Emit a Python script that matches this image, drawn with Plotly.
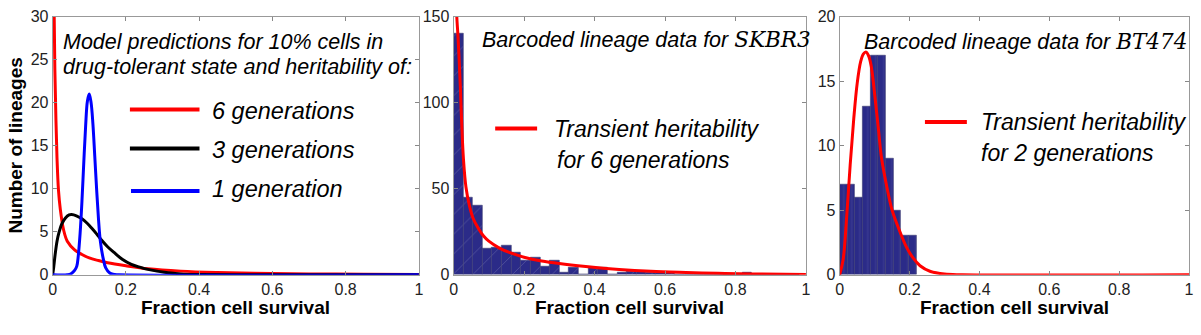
import numpy as np
import plotly.graph_objects as go

# ---------------- data ----------------
# Panel 1: model predictions
gen6_x = [0.002, 0.004, 0.006, 0.009, 0.012, 0.016, 0.021, 0.03, 0.04, 0.06, 0.08, 0.1,
          0.125, 0.15, 0.2, 0.26, 0.35, 0.45, 0.55, 0.7, 0.85, 1.0]
gen6_y = [40, 31, 24, 18, 13.5, 9.8, 7.6, 5.2, 3.9, 2.9, 2.35, 1.95,
          1.65, 1.4, 1.05, 0.7, 0.42, 0.26, 0.17, 0.1, 0.05, 0.02]

gen3_x = [0.0, 0.003, 0.007, 0.012, 0.018, 0.025, 0.035, 0.045, 0.052, 0.065, 0.08, 0.095,
          0.107, 0.12, 0.134, 0.15, 0.17, 0.19, 0.215, 0.24, 0.26, 0.285, 0.305, 0.33,
          0.35, 0.4, 0.5, 1.0]
gen3_y = [0.0, 0.9, 2.4, 3.9, 5.0, 5.9, 6.6, 6.95, 7.0, 6.85, 6.5, 5.95,
          5.4, 4.75, 4.0, 3.25, 2.5, 1.8, 1.2, 0.85, 0.62, 0.42, 0.3, 0.18,
          0.1, 0.04, 0.01, 0.0]

gen1_x = [0.0, 0.04, 0.05, 0.06, 0.066, 0.07, 0.075, 0.08, 0.085, 0.09, 0.095, 0.1,
          0.105, 0.11, 0.115, 0.12, 0.125, 0.13, 0.138, 0.145, 0.156, 0.165, 0.18, 1.0]
gen1_y = [0.0, 0.0, 0.1, 0.5, 1.0, 2.2, 4.8, 8.5, 13.0, 17.2, 20.2, 21.0,
          20.0, 17.5, 13.8, 10.0, 6.6, 4.0, 1.9, 0.8, 0.2, 0.05, 0.0, 0.0]

# Panel 2: SKBR3 histogram + fit
skbr3_bin_width = 0.0273
skbr3_counts = [140, 45, 40, 15, 16, 17, 13, 8, 10, 5, 8, 1, 4, 0, 4, 4, 0, 1,
                2, 2, 1, 1, 1, 0, 0, 0, 0, 0, 0, 0, 1, 0, 0, 0, 0, 0]
skbr3_fit_x = [0.007, 0.009, 0.012, 0.015, 0.019, 0.023, 0.028, 0.035, 0.045, 0.055, 0.07, 0.085,
               0.1, 0.13, 0.16, 0.2, 0.25, 0.3, 0.375, 0.47, 0.56, 0.66, 0.75, 0.85, 1.0]
skbr3_fit_y = [165, 150, 140, 128, 110, 88, 67, 51, 40, 33, 27, 22.5,
               19.5, 15.5, 12.8, 10.2, 8.0, 6.5, 4.8, 3.1, 2.0, 1.3, 0.8, 0.45, 0.15]

# Panel 3: BT474 histogram + fit
bt474_bin_width = 0.022
bt474_counts = [7, 7, 6, 13, 17, 17, 9, 5, 3, 3]
bt474_fit_x = [0.0, 0.01, 0.02, 0.03, 0.04, 0.05, 0.06, 0.068, 0.075, 0.082, 0.09, 0.1,
               0.11, 0.12, 0.135, 0.15, 0.17, 0.19, 0.21, 0.23, 0.26, 0.3, 0.35, 1.0]
bt474_fit_y = [0.0, 1.2, 4.5, 8.5, 12.0, 14.8, 16.5, 17.1, 17.25, 17.0, 16.2, 14.0,
               11.5, 9.0, 6.8, 5.0, 3.5, 2.2, 1.3, 0.7, 0.25, 0.05, 0.0, 0.0]

x_ticks = [0, 0.2, 0.4, 0.6, 0.8, 1]
x_ticktext = ["0", "0.2", "0.4", "0.6", "0.8", "1"]
y1_ticks = [0, 5, 10, 15, 20, 25, 30]
y2_ticks = [0, 50, 100, 150]
y3_ticks = [0, 5, 10, 15, 20]

# ---------------- figure ----------------
RED = "#ff0000"
BLUE = "#0000ff"
BAR = "#2b2b88"
FONT = "Liberation Sans, Arial, sans-serif"

W, H = 1201, 335
fig = go.Figure()

# Panel 1 lines
fig.add_trace(go.Scatter(x=gen6_x, y=gen6_y, mode="lines", line=dict(color=RED, width=3, shape="spline"),
                         xaxis="x", yaxis="y", showlegend=False))
fig.add_trace(go.Scatter(x=gen3_x, y=gen3_y, mode="lines", line=dict(color="black", width=3, shape="spline"),
                         xaxis="x", yaxis="y", showlegend=False))
fig.add_trace(go.Scatter(x=gen1_x, y=gen1_y, mode="lines", line=dict(color=BLUE, width=3, shape="spline"),
                         xaxis="x", yaxis="y", showlegend=False))

# Panel 2 histogram
c2 = np.arange(len(skbr3_counts)) * skbr3_bin_width + skbr3_bin_width / 2
fig.add_trace(go.Bar(x=c2, y=skbr3_counts, width=skbr3_bin_width,
                     marker=dict(color=BAR, line=dict(color="#3a3a70", width=0.6),
                                 pattern=dict(shape="/", fgcolor="rgba(220,220,235,0.45)", size=14, solidity=0.06)),
                     xaxis="x2", yaxis="y2", showlegend=False))
fig.add_trace(go.Scatter(x=skbr3_fit_x, y=skbr3_fit_y, mode="lines", line=dict(color=RED, width=3, shape="spline"),
                         xaxis="x2", yaxis="y2", showlegend=False))

# Panel 3 histogram
c3 = np.arange(len(bt474_counts)) * bt474_bin_width + bt474_bin_width / 2
fig.add_trace(go.Bar(x=c3, y=bt474_counts, width=bt474_bin_width,
                     marker=dict(color=BAR, line=dict(color="#3a3a70", width=0.6),
                                 pattern=dict(shape="|", fgcolor="rgba(220,220,235,0.45)", size=8, solidity=0.06)),
                     xaxis="x3", yaxis="y3", showlegend=False))
fig.add_trace(go.Scatter(x=bt474_fit_x, y=bt474_fit_y, mode="lines", line=dict(color=RED, width=3, shape="spline"),
                         xaxis="x3", yaxis="y3", showlegend=False))

ydom = [1 - 281 / H, 1 - 9 / H]
doms = [[49 / W, 418 / W], [453 / W, 808 / W], [842 / W, 1194 / W]]

def xax(dom, anchor):
    return dict(domain=dom, anchor=anchor, range=[0, 1], tickvals=x_ticks, ticktext=x_ticktext,
                ticks="inside", ticklen=4, tickcolor="#888", showline=True, linecolor="#999", linewidth=1,
                mirror="ticks", showgrid=False, zeroline=False,
                tickfont=dict(family=FONT, size=16, color="#222"))

def yax(rng, tv, anchor):
    return dict(domain=ydom, anchor=anchor, range=rng, tickvals=tv,
                ticks="inside", ticklen=4, tickcolor="#888", showline=True, linecolor="#999", linewidth=1,
                mirror="ticks", showgrid=False, zeroline=False,
                tickfont=dict(family=FONT, size=16, color="#222"))

fig.update_layout(
    width=W, height=H, margin=dict(l=0, r=0, t=0, b=0),
    paper_bgcolor="white", plot_bgcolor="white", bargap=0,
    xaxis=xax(doms[0], "y"), yaxis=yax([0, 30], y1_ticks, "x"),
    xaxis2=xax(doms[1], "y2"), yaxis2=yax([0, 150], y2_ticks, "x2"),
    xaxis3=xax(doms[2], "y3"), yaxis3=yax([0, 20], y3_ticks, "x3"),
)

ann = []
def txt(text, x, y, xref, yref, size, xanchor="left", bold=False, italic=True, textangle=0):
    t = text
    if italic:
        t = "<i>" + t + "</i>"
    if bold:
        t = "<b>" + t + "</b>"
    ann.append(dict(text=t, x=x, y=y, xref=xref, yref=yref, showarrow=False, xanchor=xanchor,
                    yanchor="middle", textangle=textangle, font=dict(family=FONT, size=size, color="black")))

# axis titles
for i, d in enumerate(doms):
    txt("Fraction cell survival", (d[0] + d[1]) / 2, 1 - 315 / H, "paper", "paper", 19,
        xanchor="center", bold=True, italic=False)
txt("Number of lineages", 12 / W, 1 - 145 / H, "paper", "paper", 19, xanchor="center",
    bold=True, italic=False, textangle=-90)

# panel 1 text
txt("Model predictions for 10% cells in", 0.024, 0.90, "x domain", "y domain", 21.5)
txt("drug-tolerant state and heritability of:", 0.024, 0.805, "x domain", "y domain", 21.5)
txt("6 generations", 0.431, 0.636, "x domain", "y domain", 23.5)
txt("3 generations", 0.431, 0.482, "x domain", "y domain", 23.5)
txt("1 generation", 0.431, 0.331, "x domain", "y domain", 23.5)

MATH = "font-family:'DejaVu Serif', 'Liberation Serif', serif"
# panel 2 text
txt("Barcoded lineage data for <span style=\"" + MATH + "\">SKBR3</span>", 0.076, 0.912,
    "x2 domain", "y2 domain", 21.5)
txt("Transient heritability", 0.279, 0.566, "x2 domain", "y2 domain", 23)
txt("for 6 generations", 0.287, 0.445, "x2 domain", "y2 domain", 23)
# panel 3 text
txt("Barcoded lineage data for <span style=\"" + MATH + "\">BT474</span>", 0.065, 0.904,
    "x3 domain", "y3 domain", 21.5)
txt("Transient heritability", 0.40, 0.592, "x3 domain", "y3 domain", 23)
txt("for 2 generations", 0.40, 0.471, "x3 domain", "y3 domain", 23)
fig.update_layout(annotations=ann)

# legend line samples
shapes = []
def seg(x0, x1, y, xref, yref, color):
    shapes.append(dict(type="line", x0=x0, x1=x1, y0=y, y1=y, xref=xref, yref=yref,
                       line=dict(color=color, width=4)))
seg(0.211, 0.401, 0.640, "x domain", "y domain", RED)
seg(0.211, 0.401, 0.489, "x domain", "y domain", "black")
seg(0.214, 0.401, 0.324, "x domain", "y domain", BLUE)
seg(0.118, 0.237, 0.566, "x2 domain", "y2 domain", RED)
seg(0.244, 0.364, 0.592, "x3 domain", "y3 domain", RED)
fig.update_layout(shapes=shapes)

fig.write_html("out.html", config={"displayModeBar": False},
               post_script="document.body.style.margin='0';document.body.style.overflow='hidden';")
